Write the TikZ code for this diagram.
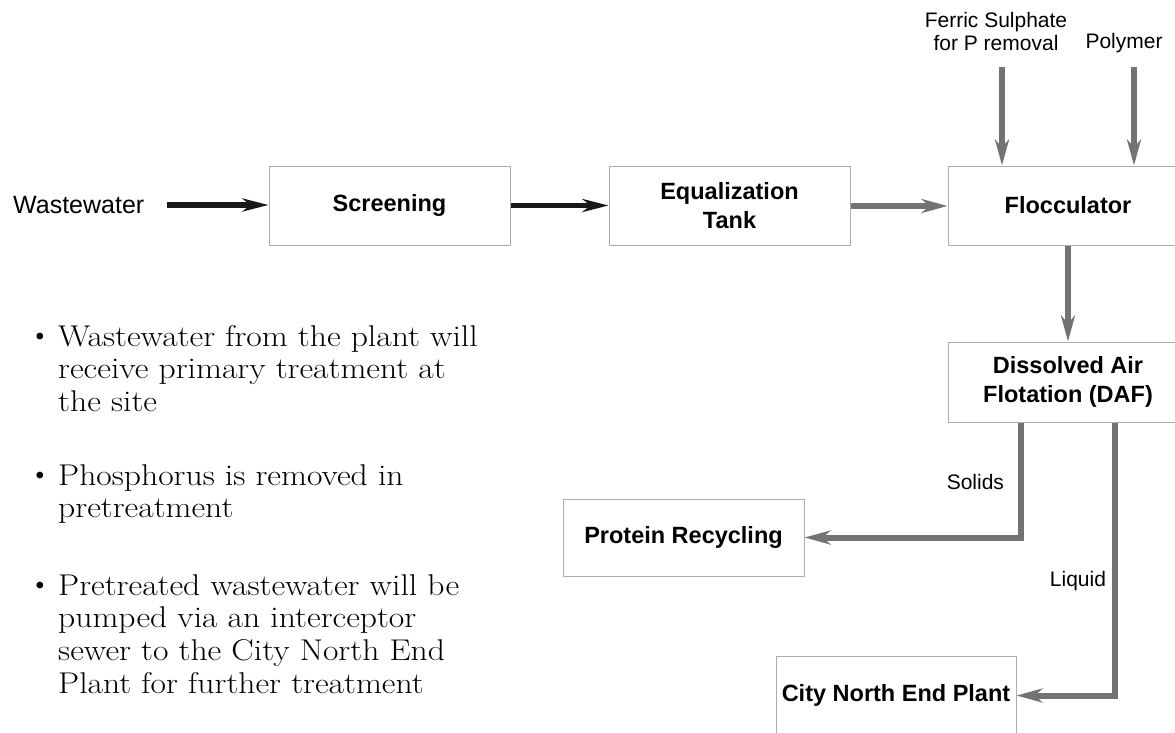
\documentclass[tikz,border=0pt]{standalone}
\usepackage{fontspec}
\setsansfont{Liberation Sans}
\newfontfamily\notefont{Latin Modern Roman}[FakeStretch=1.12]
\usetikzlibrary{arrows.meta,positioning}

\begin{document}
\begin{tikzpicture}[x=1pt,y=-1pt,
    stage/.style={draw=gray!65,line width=1pt,minimum width=241pt,minimum height=79pt,
        inner sep=0pt,align=center,font=\fontsize{23.5}{29}\selectfont\sffamily\bfseries},
    tag/.style={font=\fontsize{21}{23}\selectfont\sffamily,text=black,inner sep=0pt,align=center},
    note/.style={font=\fontsize{30}{32.7}\selectfont\notefont,inner sep=0pt,align=left,anchor=north west},
    dot/.style={font=\fontsize{30}{30}\selectfont,inner sep=0pt},
    darkflow/.style={line width=5.5pt,black!90,-{Stealth[length=26pt,width=13pt,inset=8pt]}},
    greyflow/.style={line width=6pt,black!55,-{Stealth[length=26pt,width=14pt,inset=8pt]}}]
    \useasboundingbox (0,0) rectangle (1175,732);
    \clip (0,0) rectangle (1175,732);

    \node[anchor=west,inner sep=0pt,font=\fontsize{25}{30}\selectfont\sffamily] (inflow) at (13,205) {Wastewater};
    \node[stage] (screen) at (389.5,205.5) {Screening};
    \node[stage] (equal) at (729.5,206) {Equalization\\Tank};
    \node[stage,minimum width=240pt] (floc) at (1068,205.5) {Flocculator};
    \node[stage,minimum width=240pt,minimum height=80pt] (daf) at (1068,382) {Dissolved Air\\Flotation (DAF)};
    \node[stage,minimum height=77pt] (protein) at (683.5,537.5) {Protein Recycling};
    \node[stage,minimum width=240pt] (city) at (896,695.5) {City North End Plant};

    \node[tag] (ferric) at (996,31.5) {Ferric Sulphate\\for P removal};
    \node[tag] (polymer) at (1124,43) {Polymer};
    \coordinate (ferricin) at (1002,67);
    \coordinate (polyin) at (1134,67);

    \draw[darkflow,shorten <=23pt] (inflow.east) -- (inflow.east -| screen.west);
    \draw[darkflow] (screen.east) -- (screen.east -| equal.west);
    \draw[greyflow] (equal.east) -- (equal.east -| floc.west);
    \draw[greyflow] (ferricin) -- (ferricin |- floc.north);
    \draw[greyflow] (polyin) -- (polyin |- floc.north);
    \draw[greyflow] (floc) -- (daf);
    \draw[greyflow] ([xshift=-47pt]daf.south) |- (protein.east)
        node[tag,pos=0.26,left=14pt] {Solids};
    \draw[greyflow] ([xshift=47pt]daf.south) |- (city.east)
        node[tag,pos=0.29,left=6pt] {Liquid};

    % notes
    \node[note] (item1) at (58,325) {Wastewater from the plant will\\receive primary treatment at\\the site};
    \node[note] (item2) at (58,464) {Phosphorus is removed in\\pretreatment};
    \node[note] (item3) at (58,574) {Pretreated wastewater will be\\pumped via an interceptor\\sewer to the City North End\\Plant for further treatment};
    \node[dot] (dot1) at ([xshift=-18pt,yshift=-14pt]item1.north west) {\textbullet};
    \node[dot] (dot2) at ([xshift=-18pt,yshift=-14pt]item2.north west) {\textbullet};
    \node[dot] (dot3) at ([xshift=-18pt,yshift=-14pt]item3.north west) {\textbullet};
\end{tikzpicture}
\end{document}
